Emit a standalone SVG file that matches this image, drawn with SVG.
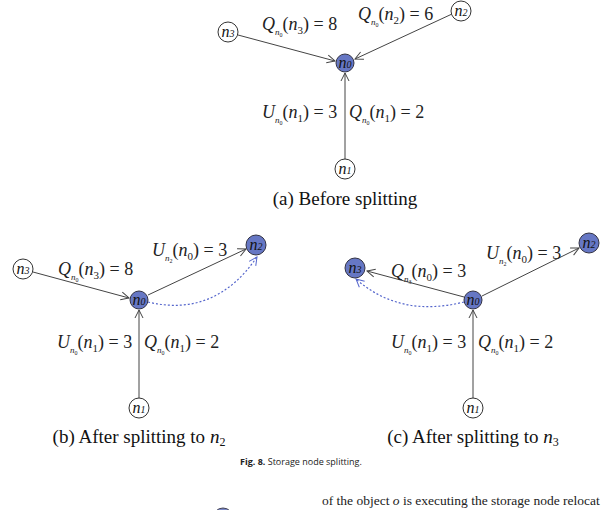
<svg xmlns="http://www.w3.org/2000/svg" width="608" height="510" viewBox="0 0 608 510">
<style>
.n{fill:#fff;stroke:#333;stroke-width:1}
.f{fill:#6677c4;stroke:#334;stroke-width:1}
.nl{font-family:"Liberation Serif",serif;font-style:italic;font-size:16px;fill:#111}
.l{font-family:"Liberation Serif",serif;font-size:18px;fill:#222}
.i{font-style:italic}
.s{font-size:9px;font-style:italic}
.ss{font-size:6px}
.c{font-family:"Liberation Serif",serif;font-size:19px;fill:#111}
.e{stroke:#444;stroke-width:1;fill:none;marker-end:url(#a)}
.d{stroke:#5566cc;stroke-width:1.2;fill:none;stroke-dasharray:2 2;marker-end:url(#b)}
</style>
<defs>
<marker id="a" markerWidth="10" markerHeight="10" refX="9" refY="5" orient="auto" markerUnits="userSpaceOnUse"><path d="M1,1 L9,5 L1,9" fill="none" stroke="#444"/></marker>
<marker id="b" markerWidth="10" markerHeight="10" refX="9" refY="5" orient="auto" markerUnits="userSpaceOnUse"><path d="M1,1 L9,5 L1,9" fill="none" stroke="#5566cc"/></marker>
</defs>
<g id="connectors">
<line class="e" x1="238" y1="35" x2="335" y2="61"/>
<line class="e" x1="452" y1="14" x2="355" y2="59"/>
<line class="e" x1="345" y1="159" x2="345" y2="73"/>
<line class="e" x1="33" y1="272" x2="129" y2="298"/>
<line class="e" x1="148" y1="295" x2="246" y2="249"/>
<line class="e" x1="139" y1="398" x2="139" y2="310"/>
<path class="d" d="M148,302 Q215,318 257,257"/>
<line class="e" x1="464" y1="297" x2="367" y2="271"/>
<line class="e" x1="482" y1="296" x2="579" y2="248"/>
<line class="e" x1="473" y1="398" x2="473" y2="310"/>
<path class="d" d="M464,302 Q400,318 356,279"/>
</g>
<g id="a-n0"><circle class="f" cx="345" cy="63" r="9"/><text class="nl" x="345" y="68" text-anchor="middle">n<tspan font-size="10">0</tspan></text></g>
<g id="a-n3"><circle class="n" cx="228" cy="32" r="10"/><text class="nl" x="228" y="37" text-anchor="middle">n<tspan font-size="10">3</tspan></text></g>
<g id="a-n2"><circle class="n" cx="461" cy="11" r="10"/><text class="nl" x="461" y="16" text-anchor="middle">n<tspan font-size="10">2</tspan></text></g>
<g id="a-n1"><circle class="n" cx="345" cy="169" r="10"/><text class="nl" x="345" y="174" text-anchor="middle">n<tspan font-size="10">1</tspan></text></g>
<g id="b-n0"><circle class="f" cx="139" cy="300" r="9"/><text class="nl" x="139" y="305" text-anchor="middle">n<tspan font-size="10">0</tspan></text></g>
<g id="b-n3"><circle class="n" cx="23" cy="269" r="10"/><text class="nl" x="23" y="274" text-anchor="middle">n<tspan font-size="10">3</tspan></text></g>
<g id="b-n2"><circle class="f" cx="256" cy="245" r="10"/><text class="nl" x="256" y="250" text-anchor="middle">n<tspan font-size="10">2</tspan></text></g>
<g id="b-n1"><circle class="n" cx="139" cy="408" r="10"/><text class="nl" x="139" y="413" text-anchor="middle">n<tspan font-size="10">1</tspan></text></g>
<g id="c-n0"><circle class="f" cx="473" cy="300" r="9"/><text class="nl" x="473" y="305" text-anchor="middle">n<tspan font-size="10">0</tspan></text></g>
<g id="c-n3"><circle class="f" cx="355" cy="268" r="10"/><text class="nl" x="355" y="273" text-anchor="middle">n<tspan font-size="10">3</tspan></text></g>
<g id="c-n2"><circle class="f" cx="589" cy="243" r="10"/><text class="nl" x="589" y="248" text-anchor="middle">n<tspan font-size="10">2</tspan></text></g>
<g id="c-n1"><circle class="n" cx="473" cy="408" r="10"/><text class="nl" x="473" y="413" text-anchor="middle">n<tspan font-size="10">1</tspan></text></g>
<g id="labels">
<text class="l" x="262" y="30"><tspan class="i">Q</tspan><tspan class="s" dy="5">n</tspan><tspan class="ss" dy="2">0</tspan><tspan dy="-7">(</tspan><tspan class="i">n</tspan><tspan font-size="11" dy="4">3</tspan><tspan dy="-4">) = 8</tspan></text>
<text class="l" x="358" y="20"><tspan class="i">Q</tspan><tspan class="s" dy="5">n</tspan><tspan class="ss" dy="2">0</tspan><tspan dy="-7">(</tspan><tspan class="i">n</tspan><tspan font-size="11" dy="4">2</tspan><tspan dy="-4">) = 6</tspan></text>
<text class="l" x="262" y="118"><tspan class="i">U</tspan><tspan class="s" dy="5">n</tspan><tspan class="ss" dy="2">0</tspan><tspan dy="-7">(</tspan><tspan class="i">n</tspan><tspan font-size="11" dy="4">1</tspan><tspan dy="-4">) = 3</tspan></text>
<text class="l" x="349" y="118"><tspan class="i">Q</tspan><tspan class="s" dy="5">n</tspan><tspan class="ss" dy="2">0</tspan><tspan dy="-7">(</tspan><tspan class="i">n</tspan><tspan font-size="11" dy="4">1</tspan><tspan dy="-4">) = 2</tspan></text>
<text class="l" x="152" y="256"><tspan class="i">U</tspan><tspan class="s" dy="5">n</tspan><tspan class="ss" dy="2">2</tspan><tspan dy="-7">(</tspan><tspan class="i">n</tspan><tspan font-size="11" dy="4">0</tspan><tspan dy="-4">) = 3</tspan></text>
<text class="l" x="58" y="275"><tspan class="i">Q</tspan><tspan class="s" dy="5">n</tspan><tspan class="ss" dy="2">0</tspan><tspan dy="-7">(</tspan><tspan class="i">n</tspan><tspan font-size="11" dy="4">3</tspan><tspan dy="-4">) = 8</tspan></text>
<text class="l" x="57" y="348"><tspan class="i">U</tspan><tspan class="s" dy="5">n</tspan><tspan class="ss" dy="2">0</tspan><tspan dy="-7">(</tspan><tspan class="i">n</tspan><tspan font-size="11" dy="4">1</tspan><tspan dy="-4">) = 3</tspan></text>
<text class="l" x="144" y="348"><tspan class="i">Q</tspan><tspan class="s" dy="5">n</tspan><tspan class="ss" dy="2">0</tspan><tspan dy="-7">(</tspan><tspan class="i">n</tspan><tspan font-size="11" dy="4">1</tspan><tspan dy="-4">) = 2</tspan></text>
<text class="l" x="486" y="259"><tspan class="i">U</tspan><tspan class="s" dy="5">n</tspan><tspan class="ss" dy="2">2</tspan><tspan dy="-7">(</tspan><tspan class="i">n</tspan><tspan font-size="11" dy="4">0</tspan><tspan dy="-4">) = 3</tspan></text>
<text class="l" x="391" y="277"><tspan class="i">Q</tspan><tspan class="s" dy="5">n</tspan><tspan class="ss" dy="2">3</tspan><tspan dy="-7">(</tspan><tspan class="i">n</tspan><tspan font-size="11" dy="4">0</tspan><tspan dy="-4">) = 3</tspan></text>
<text class="l" x="391" y="348"><tspan class="i">U</tspan><tspan class="s" dy="5">n</tspan><tspan class="ss" dy="2">0</tspan><tspan dy="-7">(</tspan><tspan class="i">n</tspan><tspan font-size="11" dy="4">1</tspan><tspan dy="-4">) = 3</tspan></text>
<text class="l" x="478" y="348"><tspan class="i">Q</tspan><tspan class="s" dy="5">n</tspan><tspan class="ss" dy="2">0</tspan><tspan dy="-7">(</tspan><tspan class="i">n</tspan><tspan font-size="11" dy="4">1</tspan><tspan dy="-4">) = 2</tspan></text>
</g>
<text class="c" x="345" y="205" text-anchor="middle">(a) Before splitting</text>
<text class="c" x="139" y="443" text-anchor="middle">(b) After splitting to <tspan class="i">n</tspan><tspan font-size="12" dy="3">2</tspan></text>
<text class="c" x="473" y="443" text-anchor="middle">(c) After splitting to <tspan class="i">n</tspan><tspan font-size="12" dy="3">3</tspan></text>
<text x="240" y="465" font-family="'Open Sans','Noto Sans',sans-serif" font-size="9" fill="#222"><tspan font-weight="bold">Fig. 8.</tspan>  Storage node splitting.</text>
<text x="322" y="505" font-family="'Liberation Serif',serif" font-size="13.5" fill="#222">of the object <tspan font-style="italic">o</tspan> is executing the storage node relocat</text>
<circle cx="223" cy="518" r="10" fill="#7a88c9" stroke="#445"/>
</svg>
